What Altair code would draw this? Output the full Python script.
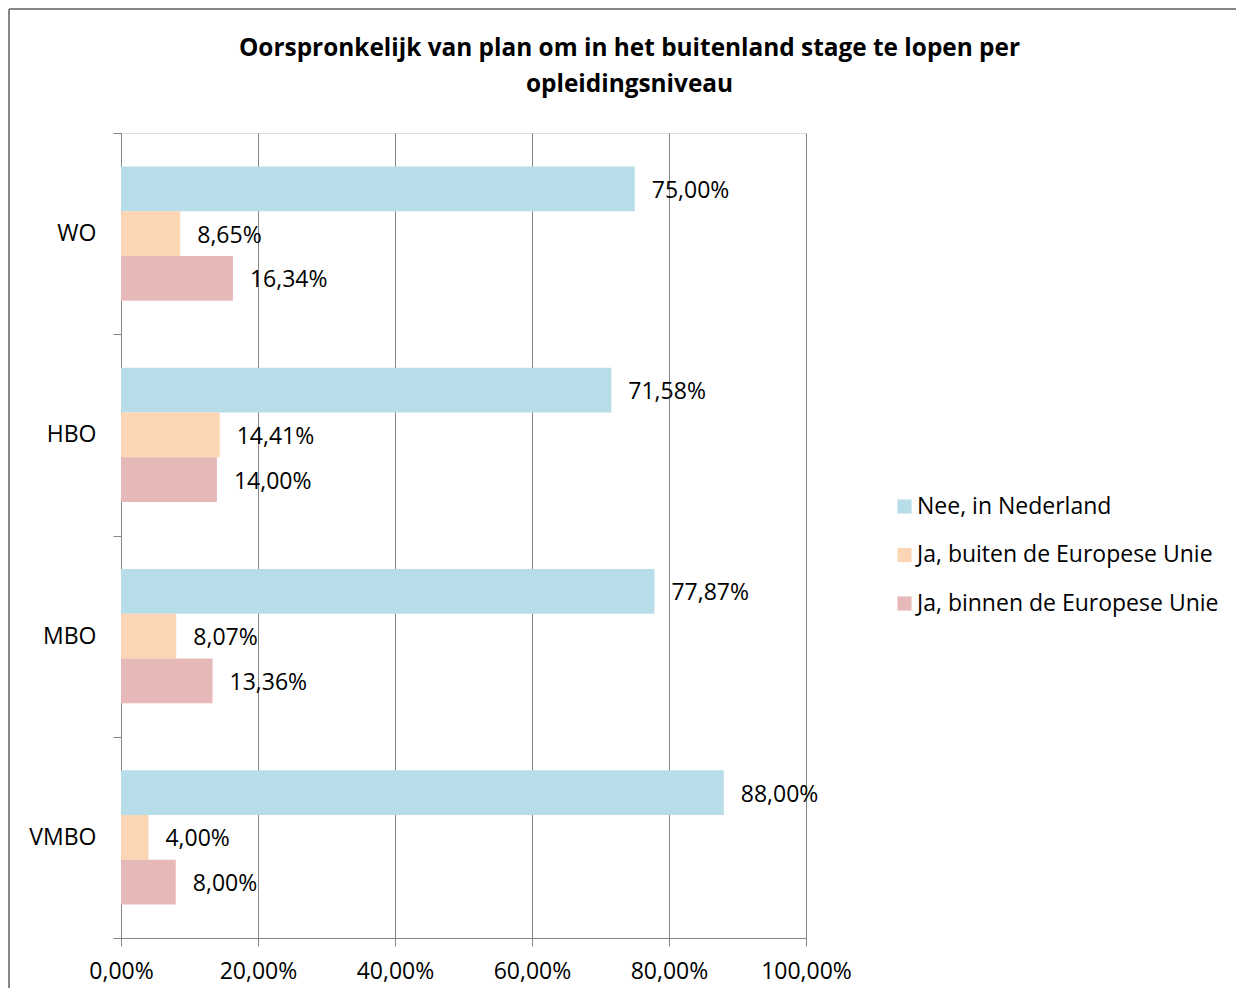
import altair as alt
import pandas as pd

categories = ["WO", "HBO", "MBO", "VMBO"]
series = ["Nee, in Nederland", "Ja, buiten de Europese Unie", "Ja, binnen de Europese Unie"]
nee_nl = [75.00, 71.58, 77.87, 88.00]
ja_buiten = [8.65, 14.41, 8.07, 4.00]
ja_binnen = [16.34, 14.00, 13.36, 8.00]
colors = ["#B7DEE8", "#FCD5B5", "#E6B9B8"]
x_ticks = [0, 20, 40, 60, 80, 100]

rows = []
for i, c in enumerate(categories):
    for s, vals in zip(series, [nee_nl, ja_buiten, ja_binnen]):
        rows.append({"niveau": c, "serie": s, "waarde": vals[i]})
df = pd.DataFrame(rows)

FONT = "Open Sans"
GRID = "#868686"
FS = 23

y_enc = alt.Y("niveau:N", sort=categories, title=None,
              scale=alt.Scale(paddingInner=0, paddingOuter=0),
              axis=alt.Axis(tickBand="extent", labelFontSize=FS, labelFont=FONT,
                            labelColor="#000000", labelPadding=17, tickSize=8,
                            tickColor=GRID, domainColor=GRID, domainWidth=1,
                            tickWidth=1, grid=False))
yoff_enc = alt.YOffset("serie:N", sort=series,
                       scale=alt.Scale(paddingInner=0, paddingOuter=0.75))
x_enc = alt.X("waarde:Q", title=None,
              scale=alt.Scale(domain=[0, 100], nice=False),
              axis=alt.Axis(values=x_ticks, grid=True, gridColor=GRID, gridWidth=1,
                            tickSize=8, tickColor=GRID, domainColor=GRID,
                            labelFontSize=FS, labelFont=FONT, labelColor="#000000",
                            labelPadding=14, labelFlush=False, labelOverlap=False,
                            labelExpr="replace(format(datum.value, '.2f'), '.', ',') + '%'"))

base = alt.Chart(df).encode(y=y_enc, yOffset=yoff_enc)

bars = base.mark_bar().encode(
    x=x_enc,
    color=alt.Color("serie:N", sort=series, title=None,
                    scale=alt.Scale(domain=series, range=colors),
                    legend=alt.Legend(orient="none", legendX=772, legendY=362,
                                      symbolType="square", symbolSize=200,
                                      symbolStrokeWidth=0, labelFontSize=FS,
                                      labelFont=FONT, labelColor="#000000",
                                      labelLimit=0, rowPadding=24.5, labelOffset=1)),
)

labels = base.mark_text(align="left", baseline="middle", dx=17, dy=2, fontSize=FS,
                        font=FONT, color="#000000").transform_calculate(
    lbl="replace(format(datum.waarde, '.2f'), '.', ',') + '%'"
).encode(x=alt.X("waarde:Q"), text="lbl:N")

frame_left = alt.Chart(df).mark_rule(color="#878787", strokeWidth=2).encode(
    x=alt.value(-112), y=alt.value(-124), y2=alt.value(900))
frame_top = alt.Chart(df).mark_rule(color="#878787", strokeWidth=2).encode(
    x=alt.value(-112), x2=alt.value(1200), y=alt.value(-124))

chart = alt.layer(bars, labels, frame_left, frame_top).properties(
    width=685, height=805,
    title=alt.TitleParams(
        text=["Oorspronkelijk van plan om in het buitenland stage te lopen per",
              "opleidingsniveau"],
        font=FONT, fontSize=24.4, fontWeight="bold", color="#000000",
        anchor="middle", frame="group", dx=166, offset=-89, lineHeight=36),
    autosize=alt.AutoSizeParams(type="none"),
    padding={"left": 113, "top": 125, "right": 430, "bottom": 50},
).configure_view(stroke=None).configure(background="#ffffff")

chart.save("out.html", embed_options={"renderer": "svg", "actions": False})
